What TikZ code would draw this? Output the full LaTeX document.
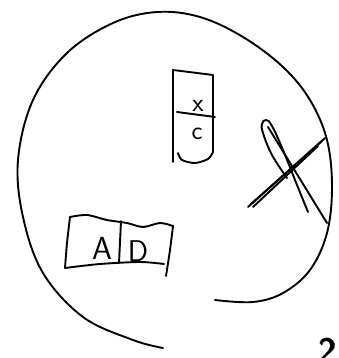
\documentclass[tikz,border=0pt]{standalone}
\usetikzlibrary{positioning}
\tikzset{
    pen/.style={line width=1.9pt, black, line cap=round, line join=round},
    scrawl/.style={font=\sffamily\fontsize{26}{26}\selectfont, inner sep=0pt}
}
\begin{document}
\begin{tikzpicture}[x=1pt, y=-1pt]
	\useasboundingbox (0,0) rectangle (338,358);
	% outer loop
	\draw[pen] plot[smooth, tension=0.6] coordinates {(163,348) (133,340) (83,317) (43,273) (23,217) (18,160) (33,100) (67,53) (113,23) (157,12) (200,17) (243,37) (283,67) (310,100) (327,140) (332,187) (327,233) (310,270) (283,293) (253,302) (215,300)};

	% upright box with x over c
	\draw[pen] (173,162) -- (173,70) -- (213,75) -- (213,152);
	\draw[pen] plot[smooth] coordinates {(178,153) (182,160) (195,163) (208,159) (213,152)};
	\draw[pen] (177,112) -- (215,117);
	\node[scrawl] (xx) at (198,106) {x};
	\node[scrawl] (cc) at (197,134) {c};

	% cross
	\draw[pen] plot[smooth, tension=0.7] coordinates {(287,178) (272,155) (263,133) (262,124) (266,120) (272,126) (283,150) (297,185) (308,212)};
	\draw[pen] (268,127) -- (327,223);
	\draw[pen] (248,207) -- (325,138);
	\draw[pen] (251,204) -- (322,141);
	\draw[pen] (253,207) -- (318,146);

	% flat box with A | D
	\draw[pen] plot[smooth] coordinates {(70,217) (87,215) (107,220) (127,223) (143,227) (160,223) (173,226)};
	\draw[pen] plot[smooth] coordinates {(173,226) (170,250) (166,276)};
	\draw[pen] plot[smooth] coordinates {(70,217) (67,243) (65,268)};
	\draw[pen] plot[smooth] coordinates {(65,268) (100,264) (140,262) (164,264)};
	\draw[pen] (121,221) -- (119,263);
	\node[scrawl, font=\sffamily\fontsize{32}{32}\selectfont] (aa) at (102,248) {A};
	\node[scrawl, font=\sffamily\fontsize{30}{30}\selectfont] (dd) at (138,251) {D};

	\node[scrawl, font=\sffamily\bfseries\fontsize{34}{34}\selectfont] (two) at (328,350) {2};
\end{tikzpicture}
\end{document}
